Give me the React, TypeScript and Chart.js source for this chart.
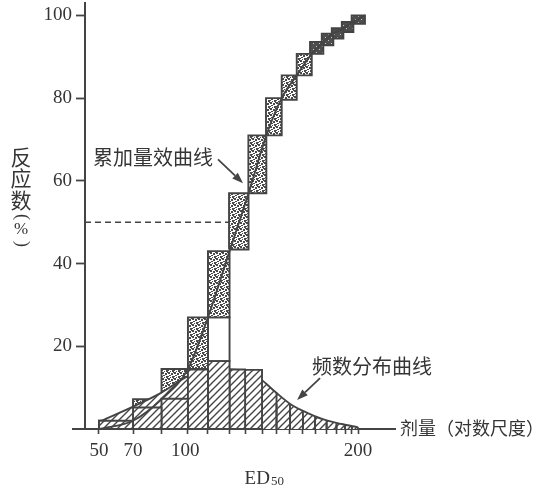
import React, { useEffect, useRef } from 'react';
import { Chart, registerables } from 'chart.js';

Chart.register(...registerables);

// ---- data (x in dose units, y in % responding) ----
// edges of the dose intervals of the frequency histogram
const binEdges = [50, 69.7, 86.2, 101.5, 113.1, 125.6, 134.6, 144.4, 152.8, 160.6, 168.1, 175.1, 181.8, 187.5, 192.5, 196.5, 200];
// frequency (%) of responders in each interval
const binFreq = [2, 5.2, 7.3, 14.4, 16.4, 14.4, 14.3, 8.8, 6.0, 4.2, 2.9, 2.0, 1.4, 1.0, 0.7, 0.4];
// smooth frequency-distribution (bell) curve
const freqCurveDose = [50, 69.7, 86.2, 101.5, 113.1, 125.6, 135.5, 144.4, 152, 161.6, 171.2, 180.9, 190.6, 200];
const freqCurveValue = [1.7, 5.4, 8.8, 12.8, 14.3, 14.4, 14.0, 11.8, 9.0, 5.8, 3.8, 2.2, 1.2, 0.4];
// cumulative boxes (stacked increments)
const cumLeft = [50, 69.7, 86.2, 101.5, 113.1, 125.3, 136.5, 146.7, 155.8, 164.5, 172.2, 179.0, 184.8, 190.6, 196.3];
const cumRight = [69.7, 86.2, 101.5, 113.1, 125.6, 136.6, 146.9, 155.8, 164.5, 173.2, 179.9, 185.7, 191.5, 197.3, 204.0];
const cumLow = [0, 2, 7.2, 14.5, 27, 43.4, 57, 71, 79.6, 85.5, 90.7, 92.8, 94.4, 96.0, 98.0];
const cumHigh = [2, 7.2, 14.5, 27, 43, 57, 71, 80, 85.5, 90.7, 93.6, 95.6, 96.9, 98.4, 100];
// 50 % response level and where its dashed guide meets the cumulative curve
const ed50Level = 50;
const ed50Dose = 125.8;
// axis ticks
const yTicks = [20, 40, 60, 80, 100];
const xLabelValues = [50, 70, 100, 200];
const xLabels = ['50', '70', '100', '200'];

// ---- annotations (data units) ----
const cumLabel = { text: '累加量效曲线', x: 46.5, y: 65.7 };
const cumArrow = { from: [118.9, 65.2], to: [133.4, 59.4] };
const freqLabel = { text: '频数分布曲线', x: 173.4, y: 15.2 };
const freqArrow = { from: [178.0, 12.3], to: [164.7, 7.0] };
const ed50LabelDose = 134.3;

const X_MIN = 41.9;
const X_MAX = 221.4;
const Y_MIN = 0;
const Y_MAX = 103;
const FLAT_BARS = 7;

const INK = '#444444';
const TEXT = '#353535';
const CLEAR = 'rgba(0,0,0,0)';
const SERIF = '"Liberation Serif", "DejaVu Serif", serif';
const CJK = '"Noto Sans CJK SC", "Noto Sans", sans-serif';
const LW = 1.9;

function hatchPattern(ctx: CanvasRenderingContext2D): CanvasPattern {
  const s = 7;
  const c = document.createElement('canvas');
  c.width = s;
  c.height = s;
  const g = c.getContext('2d')!;
  g.fillStyle = '#ffffff';
  g.fillRect(0, 0, s, s);
  g.strokeStyle = INK;
  g.lineWidth = 1.4;
  g.beginPath();
  g.moveTo(0, s);
  g.lineTo(s, 0);
  g.moveTo(-s / 2, s / 2);
  g.lineTo(s / 2, -s / 2);
  g.moveTo(s / 2, s * 1.5);
  g.lineTo(s * 1.5, s / 2);
  g.stroke();
  return ctx.createPattern(c, 'repeat')!;
}

function dotPattern(ctx: CanvasRenderingContext2D, dense: boolean): CanvasPattern {
  const s = 6;
  const c = document.createElement('canvas');
  c.width = s;
  c.height = s;
  const g = c.getContext('2d')!;
  g.fillStyle = dense ? '#4e4e4e' : '#ffffff';
  g.fillRect(0, 0, s, s);
  g.fillStyle = dense ? '#c8c8c8' : '#4a4a4a';
  const specks = dense
    ? [[1, 1, 1, 1], [4, 4, 1, 1]]
    : [[0, 0, 2, 2], [3, 1, 2, 2], [1, 3, 2, 1], [4, 4, 2, 2], [5, 0, 1, 1], [2, 5, 1, 1], [0, 4, 1, 1]];
  specks.forEach(([x, y, w, h]) => g.fillRect(x, y, w, h));
  return ctx.createPattern(c, 'repeat')!;
}

const rect = (x0: number, x1: number, lo: number, hi: number) => [
  { x: x0, y: lo },
  { x: x0, y: hi },
  { x: x1, y: hi },
  { x: x1, y: lo },
  { x: x0, y: lo },
];

const xLabelFor = (v: number) => {
  const i = xLabelValues.findIndex((l) => Math.abs(l - v) < 0.6);
  return i >= 0 ? xLabels[i] : '';
};
const isEdge = (v: number) => binEdges.some((e) => Math.abs(e - v) < 1e-6);

function drawArrow(ctx: CanvasRenderingContext2D, x0: number, y0: number, x1: number, y1: number) {
  const ang = Math.atan2(y1 - y0, x1 - x0);
  const len = 11;
  const half = 4;
  const bx = x1 - len * Math.cos(ang);
  const by = y1 - len * Math.sin(ang);
  ctx.beginPath();
  ctx.moveTo(x0, y0);
  ctx.lineTo(bx, by);
  ctx.stroke();
  ctx.beginPath();
  ctx.moveTo(x1, y1);
  ctx.lineTo(bx + half * Math.sin(ang), by - half * Math.cos(ang));
  ctx.lineTo(bx - half * Math.sin(ang), by + half * Math.cos(ang));
  ctx.closePath();
  ctx.fill();
}

const annotations = {
  id: 'annotations',
  afterDraw(chart: any) {
    const { ctx, chartArea } = chart;
    const x = chart.scales.x;
    const y = chart.scales.y;
    const y0 = y.getPixelForValue(0);
    ctx.save();
    // x axis runs a little past the y axis on the left
    ctx.strokeStyle = INK;
    ctx.lineWidth = 2;
    ctx.beginPath();
    ctx.moveTo(chartArea.left - 13, y0);
    ctx.lineTo(chartArea.left, y0);
    ctx.stroke();

    // curve labels
    ctx.fillStyle = TEXT;
    ctx.textAlign = 'left';
    ctx.textBaseline = 'middle';
    ctx.font = `20px ${CJK}`;
    ctx.fillText(cumLabel.text, x.getPixelForValue(cumLabel.x), y.getPixelForValue(cumLabel.y));
    ctx.fillText(freqLabel.text, x.getPixelForValue(freqLabel.x), y.getPixelForValue(freqLabel.y));

    // arrows
    ctx.strokeStyle = INK;
    ctx.fillStyle = INK;
    ctx.lineWidth = 1.8;
    for (const a of [cumArrow, freqArrow]) {
      drawArrow(
        ctx,
        x.getPixelForValue(a.from[0]),
        y.getPixelForValue(a.from[1]),
        x.getPixelForValue(a.to[0]),
        y.getPixelForValue(a.to[1])
      );
    }

    // x axis title, to the right of the axis
    ctx.fillStyle = TEXT;
    ctx.font = `18px ${CJK}`;
    ctx.textBaseline = 'middle';
    ctx.fillText('剂量（对数尺度）', chartArea.right + 5, y0 - 1);

    // ED50 under the axis
    ctx.textBaseline = 'alphabetic';
    ctx.font = `19px ${SERIF}`;
    const ex = x.getPixelForValue(ed50LabelDose);
    const eb = chartArea.bottom + 55;
    ctx.fillText('ED', ex, eb);
    const w = ctx.measureText('ED').width;
    ctx.font = `13px ${SERIF}`;
    ctx.fillText('50', ex + w + 1, eb + 1);

    // vertical y axis title
    const tx = 21;
    const top = chartArea.top;
    ctx.textAlign = 'center';
    ctx.textBaseline = 'middle';
    ctx.font = `21px ${CJK}`;
    ['反', '应', '数'].forEach((ch, i) => ctx.fillText(ch, tx, top + 154 + i * 21.5));
    ctx.font = `18px ${SERIF}`;
    ctx.save();
    ctx.translate(tx + 1, top + 214);
    ctx.rotate(Math.PI / 2);
    ctx.fillText('(', 0, 0);
    ctx.restore();
    ctx.font = `17px ${SERIF}`;
    ctx.fillText('%', tx, top + 227);
    ctx.font = `18px ${SERIF}`;
    ctx.save();
    ctx.translate(tx + 1, top + 241);
    ctx.rotate(Math.PI / 2);
    ctx.fillText(')', 0, 0);
    ctx.restore();

    ctx.restore();
  },
};

export default function App() {
  const ref = useRef<HTMLCanvasElement>(null);

  useEffect(() => {
    const canvas = ref.current;
    if (!canvas) return;
    const c2d = canvas.getContext('2d')!;
    const hatch = hatchPattern(c2d);
    const dots = dotPattern(c2d, false);
    const denseDots = dotPattern(c2d, true);

    const datasets: any[] = [];

    // cumulative curve (top layer)
    datasets.push({
      data: [{ x: cumLeft[0], y: cumLow[0] }, ...cumRight.map((xv, i) => ({ x: xv, y: cumHigh[i] }))],
      borderColor: INK,
      borderWidth: LW,
      fill: false,
      cubicInterpolationMode: 'monotone',
      order: 0,
    });

    // dashed 50 % guide
    datasets.push({
      data: [
        { x: X_MIN, y: ed50Level },
        { x: ed50Dose, y: ed50Level },
      ],
      borderColor: INK,
      borderWidth: 1.6,
      borderDash: [6, 4],
      fill: false,
      order: 1,
    });

    // frequency histogram bars
    binFreq.forEach((f, i) => {
      const flat = i < FLAT_BARS;
      datasets.push({
        data: rect(binEdges[i], binEdges[i + 1], 0, f),
        fill: flat ? 'shape' : false,
        backgroundColor: hatch,
        borderColor: INK,
        borderWidth: LW,
        borderJoinStyle: 'miter',
        order: 2,
        segment: flat
          ? undefined
          : {
              borderColor: (ctx: any) => (ctx.p0DataIndex === 0 || ctx.p0DataIndex === 2 ? INK : CLEAR),
            },
      });
    });

    // bell-shaped frequency distribution curve with hatched area
    datasets.push({
      data: freqCurveDose.map((xv, i) => ({ x: xv, y: freqCurveValue[i] })),
      fill: 'origin',
      backgroundColor: hatch,
      borderColor: INK,
      borderWidth: LW,
      cubicInterpolationMode: 'monotone',
      order: 3,
    });

    // cumulative (stippled) boxes
    cumLeft.forEach((l, i) => {
      datasets.push({
        data: rect(l, cumRight[i], cumLow[i], cumHigh[i]),
        fill: 'shape',
        backgroundColor: cumHigh[i] - cumLow[i] < 4 ? denseDots : dots,
        borderColor: INK,
        borderWidth: LW,
        borderJoinStyle: 'miter',
        order: 4,
      });
      // open gap between a frequency bar top and the cumulative box above it
      const b = binEdges.findIndex((e) => Math.abs(e - l) < 1e-6);
      if (b >= 0 && Math.abs(binEdges[b + 1] - cumRight[i]) < 1e-6 && cumLow[i] - binFreq[b] > 1) {
        datasets.push({
          data: rect(l, cumRight[i], binFreq[b], cumLow[i]),
          fill: false,
          borderColor: INK,
          borderWidth: LW,
          order: 4,
        });
      }
    });

    const chart = new Chart(canvas, {
      type: 'line',
      data: { datasets },
      options: {
        animation: false,
        responsive: true,
        maintainAspectRatio: false,
        events: [],
        layout: { padding: { left: 0, right: 148, top: 3, bottom: 0 } },
        elements: { point: { radius: 0 }, line: { tension: 0 } },
        plugins: { legend: { display: false }, tooltip: { enabled: false } },
        scales: {
          x: {
            type: 'linear',
            min: X_MIN,
            max: X_MAX,
            afterBuildTicks: (scale: any) => {
              const vals = [...binEdges];
              xLabelValues.forEach((v) => {
                if (!binEdges.some((e) => Math.abs(e - v) < 0.6)) vals.push(v);
              });
              vals.sort((a, b) => a - b);
              scale.ticks = vals.map((value) => ({ value }));
            },
            afterFit: (scale: any) => {
              scale.height = 60;
              scale.paddingLeft = 0;
              scale.paddingRight = 0;
            },
            grid: {
              display: true,
              drawOnChartArea: false,
              drawTicks: true,
              tickLength: 5,
              tickWidth: 1.6,
              tickColor: (ctx: any) => (ctx.tick && isEdge(ctx.tick.value) ? INK : CLEAR),
            },
            border: { display: true, color: INK, width: 2 },
            ticks: {
              autoSkip: false,
              maxRotation: 0,
              minRotation: 0,
              padding: 6,
              color: TEXT,
              font: { family: SERIF, size: 19 },
              callback: (v: any) => xLabelFor(Number(v)),
            },
          },
          y: {
            type: 'linear',
            min: Y_MIN,
            max: Y_MAX,
            afterBuildTicks: (scale: any) => {
              scale.ticks = [0, ...yTicks].map((value) => ({ value }));
            },
            afterFit: (scale: any) => {
              scale.width = 85;
              scale.paddingTop = 0;
              scale.paddingBottom = 0;
            },
            grid: {
              display: true,
              drawOnChartArea: false,
              drawTicks: true,
              tickLength: 9,
              tickWidth: 1.8,
              tickColor: (ctx: any) => (ctx.tick && ctx.tick.value === 0 ? CLEAR : INK),
            },
            border: { display: true, color: INK, width: 2 },
            ticks: {
              padding: 4,
              color: TEXT,
              font: { family: SERIF, size: 19 },
              callback: (v: any) => (Number(v) === 0 ? '' : String(v)),
            },
          },
        },
      },
      plugins: [annotations],
    } as any);

    return () => chart.destroy();
  }, []);

  return (
    <div style={{ position: 'fixed', left: 0, top: 0, width: 543, height: 489, background: '#ffffff' }}>
      <canvas ref={ref} />
    </div>
  );
}
